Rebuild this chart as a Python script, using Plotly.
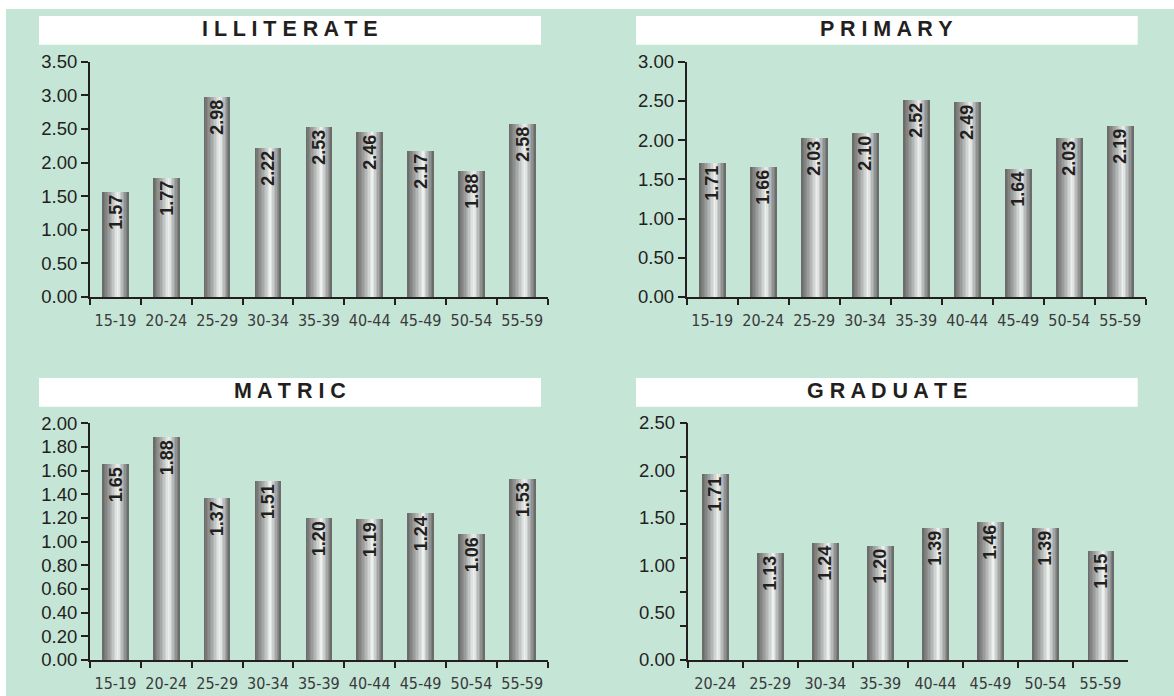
import plotly.graph_objects as go

W, H = 1174, 696

# ---------------- data ----------------
AGES9 = ["15-19", "20-24", "25-29", "30-34", "35-39", "40-44", "45-49", "50-54", "55-59"]
AGES8 = ["20-24", "25-29", "30-34", "35-39", "40-44", "45-49", "50-54", "55-59"]

illiterate = [1.57, 1.77, 2.98, 2.22, 2.53, 2.46, 2.17, 1.88, 2.58]
primary = [1.71, 1.66, 2.03, 2.10, 2.52, 2.49, 1.64, 2.03, 2.19]
matric = [1.65, 1.88, 1.37, 1.51, 1.20, 1.19, 1.24, 1.06, 1.53]
graduate = [1.96, 1.13, 1.24, 1.20, 1.39, 1.46, 1.39, 1.15]          # bar heights as drawn
graduate_labels = ["1.71", "1.13", "1.24", "1.20", "1.39", "1.46", "1.39", "1.15"]  # printed labels

titles = ["ILLITERATE", "PRIMARY", "MATRIC", "GRADUATE"]

illiterate_ticks = [0, 0.5, 1.0, 1.5, 2.0, 2.5, 3.0, 3.5]
primary_ticks = [0, 0.5, 1.0, 1.5, 2.0, 2.5, 3.0]
matric_ticks = [0, 0.2, 0.4, 0.6, 0.8, 1.0, 1.2, 1.4, 1.6, 1.8, 2.0]
graduate_ticks = [0, 0.5, 1.0, 1.5, 2.0, 2.5]
graduate_marks = [0, 2.5 / 7, 5 / 7, 7.5 / 7, 10 / 7, 12.5 / 7, 15 / 7, 2.5]

# ---------------- style ----------------
DARK = "#231f20"
GREEN = "#c5e5d7"
STOPS = [(0.0, (0x66, 0x66, 0x66)), (0.15, (0x84, 0x85, 0x85)), (0.35, (0xb0, 0xb3, 0xb2)),
         (0.5, (0xd6, 0xdb, 0xd9)), (0.6, (0xf0, 0xf4, 0xf2)), (0.7, (0xc8, 0xcc, 0xca)),
         (0.85, (0x94, 0x96, 0x96)), (1.0, (0x62, 0x62, 0x62))]


def grad(t):
    for (a, ca), (b, cb) in zip(STOPS[:-1], STOPS[1:]):
        if a <= t <= b:
            f = (t - a) / (b - a)
            c = [round(ca[j] + (cb[j] - ca[j]) * f) for j in range(3)]
            return "rgb(%d,%d,%d)" % tuple(c)
    return "rgb(98,98,98)"


def px(x):
    return x / W


def py(y):
    return 1 - y / H


# panel layout in pixels: x-domain, y-domain(top,bottom), title box (x0,x1,y0,y1)
panels = [
    dict(cats=AGES9, vals=illiterate, labels=["%.2f" % v for v in illiterate], ticks=illiterate_ticks,
         rng=[0, 3.5], xd=(90, 547.7), yd=(61.7, 297), box=(39, 541, 16, 44.7)),
    dict(cats=AGES9, vals=primary, labels=["%.2f" % v for v in primary], ticks=primary_ticks,
         rng=[0, 3.0], xd=(686.7, 1145.7), yd=(61.7, 297), box=(636, 1137.7, 16, 44.7)),
    dict(cats=AGES9, vals=matric, labels=["%.2f" % v for v in matric], ticks=matric_ticks,
         rng=[0, 2.0], xd=(90, 547.7), yd=(423.3, 660), box=(39, 541, 378, 406.7)),
    dict(cats=AGES8, vals=graduate, labels=graduate_labels, ticks=graduate_ticks,
         rng=[0, 2.5], xd=(687.7, 1128), yd=(422.7, 660), box=(636, 1137.7, 378, 406.7)),
]

fig = go.Figure()
shapes = [dict(type="rect", xref="paper", yref="paper", x0=px(6), x1=1, y0=0, y1=py(9),
               fillcolor=GREEN, line=dict(width=0), layer="below")]
annotations = []
K = 18
BAR_PX = 26.5

for k, p in enumerate(panels, start=1):
    xa = "x" if k == 1 else "x%d" % k
    ya = "y" if k == 1 else "y%d" % k
    n = len(p["cats"])
    cat_px = (p["xd"][1] - p["xd"][0]) / n
    w = BAR_PX / cat_px
    s = w / K
    for i in range(K):
        fig.add_trace(go.Bar(
            x=p["cats"], y=p["vals"], xaxis=xa, yaxis=ya,
            width=s * (1.6 if i < K - 1 else 1.0), offset=-w / 2 + i * s,
            marker=dict(color=grad((i + 0.5) / K), line=dict(width=0)),
            hoverinfo="skip", showlegend=False))
    fig.add_trace(go.Bar(
        x=p["cats"], y=p["vals"], xaxis=xa, yaxis=ya, text=p["labels"],
        width=w, offset=-w / 2,
        marker=dict(color="rgba(0,0,0,0)", line=dict(width=0)),
        textposition="inside", insidetextanchor="end", textangle=-90, constraintext="none",
        insidetextfont=dict(family="Liberation Sans, Arial, sans-serif", size=18, color=DARK,
                            weight="bold"),
        hoverinfo="skip", showlegend=False))

    xd = [px(p["xd"][0]), px(p["xd"][1])]
    yd = [py(p["yd"][1]), py(p["yd"][0])]
    fig.layout["xaxis" if k == 1 else "xaxis%d" % k] = dict(
        domain=xd, anchor=ya, type="category", range=[-0.5, n - 0.5], automargin=False,
        tickson="boundaries", ticks="outside", ticklen=6, tickwidth=2, tickcolor=DARK,
        showline=True, linewidth=2, linecolor=DARK, showgrid=False, zeroline=False,
        ticklabelstandoff=8, tickangle=0,
        tickfont=dict(family="Liberation Sans Narrow, DejaVu Sans Condensed, Liberation Sans, sans-serif",
                      size=16, color="#3a3a3a"))
    yax = dict(
        domain=yd, anchor=xa, range=p["rng"], tickmode="array", tickvals=p["ticks"],
        tickformat=".2f", ticks="outside", ticklen=7, tickwidth=2, tickcolor=DARK,
        showline=True, linewidth=2, linecolor=DARK, showgrid=False, zeroline=False,
        automargin=False,
        tickfont=dict(family="Liberation Sans, Arial, sans-serif", size=18.5, color=DARK))
    if k == 4:
        yax["tickcolor"] = "rgba(0,0,0,0)"
    fig.layout["yaxis" if k == 1 else "yaxis%d" % k] = yax

    bx0, bx1, by0, by1 = p["box"]
    shapes.append(dict(type="rect", xref="paper", yref="paper", x0=px(bx0), x1=px(bx1),
                       y0=py(by1), y1=py(by0), fillcolor="white", line=dict(width=0),
                       layer="below"))
    annotations.append(dict(
        text=" ".join(titles[k - 1]), xref="paper", yref="paper",
        x=px((bx0 + bx1) / 2), y=py((by0 + by1) / 2 - 1.5), xanchor="center", yanchor="middle",
        showarrow=False,
        font=dict(family="Liberation Sans, Arial, sans-serif", size=21.5, color=DARK, weight="bold")))

# extra tick marks on graduate y-axis (unevenly placed relative to labels, as in original)
fig.layout["yaxis5"] = dict(
    domain=[py(660), py(422.7)], anchor="x4", overlaying="y4", range=[0, 2.5], automargin=False,
    tickmode="array", tickvals=graduate_marks, ticks="outside", ticklen=7, tickwidth=2,
    tickcolor=DARK, showticklabels=False, showline=False, showgrid=False, zeroline=False)
fig.add_trace(go.Scatter(x=[AGES8[0]], y=[0], xaxis="x4", yaxis="y5", mode="markers",
                         marker=dict(size=0, opacity=0), hoverinfo="skip", showlegend=False))

fig.update_layout(
    template="none",
    width=W, height=H, margin=dict(l=0, r=0, t=0, b=0, autoexpand=False),
    paper_bgcolor="white", plot_bgcolor="rgba(0,0,0,0)",
    barmode="overlay", bargap=0, shapes=shapes, annotations=annotations,
    showlegend=False)

fig.write_html("out.html", config={"displayModeBar": False})
